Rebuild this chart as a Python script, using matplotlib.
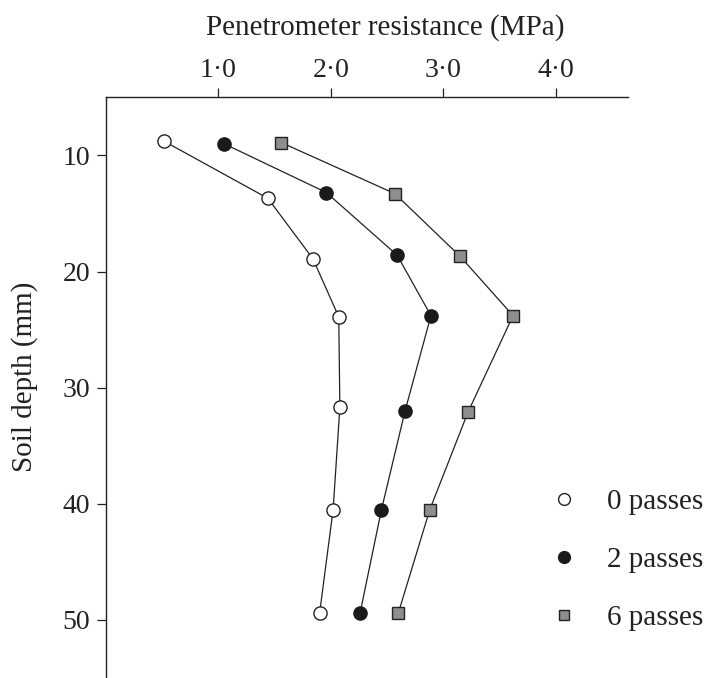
import matplotlib
matplotlib.use("Agg")
import matplotlib.pyplot as plt
from matplotlib.lines import Line2D

plt.rcParams['font.family'] = ['Liberation Serif', 'DejaVu Serif']

# depth (mm) and resistance (MPa)
depth_0 = [8.8, 13.7, 18.9, 23.9, 31.7, 40.5, 49.4]
res_0 = [0.52, 1.44, 1.84, 2.07, 2.08, 2.02, 1.90]

depth_2 = [9.0, 13.2, 18.6, 23.8, 32.0, 40.5, 49.4]
res_2 = [1.05, 1.96, 2.59, 2.89, 2.66, 2.45, 2.26]

depth_6 = [8.9, 13.3, 18.7, 23.8, 32.1, 40.5, 49.4]
res_6 = [1.56, 2.57, 3.15, 3.62, 3.22, 2.88, 2.60]

labels = ['0 passes', '2 passes', '6 passes']
xticks = [1, 2, 3, 4]
xticklabels = ['1·0', '2·0', '3·0', '4·0']
yticks = [10, 20, 30, 40, 50]

ink = '#222222'

fig = plt.figure(figsize=(7.08, 6.78), dpi=100)
ax = fig.add_axes([106 / 708, 0.0, (627.7 - 106) / 708, 1 - 97.3 / 678])

ax.plot(res_0, depth_0, color=ink, lw=0.9, marker='o', ms=9.5,
        mfc='white', mec=ink, mew=1.0, zorder=3)
ax.plot(res_2, depth_2, color=ink, lw=0.9, marker='o', ms=9.5,
        mfc='#1a1a1a', mec='#1a1a1a', mew=1.0, zorder=3)
ax.plot(res_6, depth_6, color=ink, lw=0.9, marker='s', ms=8.2,
        mfc='#8e8e8e', mec=ink, mew=1.0, zorder=3)

ax.set_xlim(0, 4.64)
ax.set_ylim(55, 5)

ax.xaxis.tick_top()
ax.xaxis.set_label_position('top')
ax.set_xticks(xticks)
ax.set_xticklabels(xticklabels)
ax.set_yticks(yticks)

for s in ['right', 'bottom']:
    ax.spines[s].set_visible(False)
for s in ['left', 'top']:
    ax.spines[s].set_color(ink)
    ax.spines[s].set_linewidth(1.0)

ax.tick_params(axis='both', direction='out', length=6.5, width=0.9,
               color=ink, labelsize=20, labelcolor=ink)
ax.tick_params(axis='x', pad=4)
ax.tick_params(axis='y', pad=5)

ax.set_xlabel('Penetrometer resistance (MPa)', fontsize=21, color=ink)
ax.xaxis.set_label_coords(0.535, 1.12)
ax.xaxis.label.set_va('center')
ax.set_ylabel('Soil depth (mm)', fontsize=21, color=ink)
ax.yaxis.set_label_coords(-0.157, 0.519)
ax.yaxis.label.set_va('center')

handles = [
    Line2D([], [], ls='None', marker='o', ms=8.5, mfc='white', mec=ink, mew=1.0),
    Line2D([], [], ls='None', marker='o', ms=8.5, mfc='#1a1a1a', mec='#1a1a1a', mew=1.0),
    Line2D([], [], ls='None', marker='s', ms=7, mfc='#8e8e8e', mec=ink, mew=1.0),
]
leg = ax.legend(handles, labels, loc='upper left',
                bbox_to_anchor=((535 - 106) / 521.7, 1 - (474 - 97.3) / 580.7),
                frameon=False, fontsize=21, handlelength=1.0,
                handletextpad=0.98, labelspacing=1.08, borderpad=0)
for t in leg.get_texts():
    t.set_color(ink)

fig.savefig('out.png', dpi=100)
